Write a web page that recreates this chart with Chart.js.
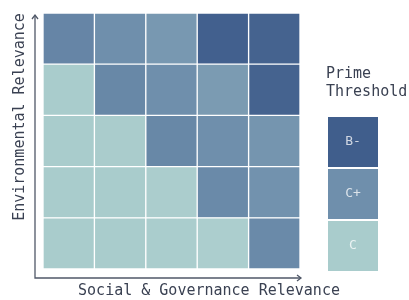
<!DOCTYPE html>
<html>
<head>
<meta charset="utf-8">
<script src="https://cdn.jsdelivr.net/npm/chart.js@4/dist/chart.umd.min.js"></script>
<style>
  html, body { margin: 0; padding: 0; background: #fff; }
  #wrap { width: 409px; height: 300px; }
</style>
</head>
<body>
<div id="wrap"><canvas id="heat" width="409" height="300"></canvas></div>
<script>
// social & governance relevance columns (left -> right)
const columns = ['1', '2', '3', '4', '5'];
// environmental relevance rows, listed bottom -> top
const rowLow1 = [1.0, 1.0, 0.95, 0.85, 2.1];
const rowLow2 = [1.0, 1.0, 0.93, 2.1, 1.95];
const rowMid = [1.0, 0.97, 2.15, 2.0, 1.9];
const rowHigh2 = [1.0, 2.15, 2.0, 1.8, 2.9];
const rowHigh1 = [2.2, 2.0, 1.85, 2.95, 2.9];
const rows = [rowLow1, rowLow2, rowMid, rowHigh2, rowHigh1];

// legend: grade labels (top -> bottom) and the score they stand for
const grades = ['B-', 'C+', 'C'];
const gradeScores = [3, 2, 1];

const xTitle = 'Social & Governance Relevance';
const yTitle = 'Environmental Relevance';
const legendTitle = ['Prime', 'Threshold'];

// colour ramp, score -> rgb
const stops = [
  [0, [192, 218, 214]],
  [1, [169, 204, 204]],
  [2, [111, 143, 172]],
  [3, [64, 94, 140]]
];
function scoreColor(s) {
  for (let i = 1; i < stops.length; i++) {
    if (s <= stops[i][0] || i === stops.length - 1) {
      const a = stops[i - 1], b = stops[i];
      const t = Math.max(0, Math.min(1, (s - a[0]) / (b[0] - a[0])));
      const c = a[1].map((v, k) => Math.round(v + (b[1][k] - v) * t));
      return `rgb(${c[0]},${c[1]},${c[2]})`;
    }
  }
}

const FONT = "'DejaVu Sans Mono', monospace";
const INK = '#3a4152';

const decor = {
  id: 'decor',
  afterDraw(chart) {
    const ctx = chart.ctx;
    const area = chart.chartArea;
    ctx.save();
    // axis lines with arrows
    const ox = area.left - 8, oy = area.bottom + 9;
    ctx.strokeStyle = '#505868';
    ctx.lineWidth = 1.3;
    ctx.beginPath();
    ctx.moveTo(ox, area.top + 2);
    ctx.lineTo(ox, oy);
    ctx.lineTo(area.right + 1, oy);
    ctx.stroke();
    ctx.beginPath();
    ctx.moveTo(ox - 3, area.top + 6);
    ctx.lineTo(ox, area.top + 2);
    ctx.lineTo(ox + 3, area.top + 6);
    ctx.moveTo(area.right - 3, oy - 3);
    ctx.lineTo(area.right + 1, oy);
    ctx.lineTo(area.right - 3, oy + 3);
    ctx.stroke();

    // titles
    ctx.fillStyle = INK;
    ctx.font = `15px ${FONT}`;
    ctx.textAlign = 'center';
    ctx.textBaseline = 'middle';
    ctx.fillText(xTitle, 209, 291);
    ctx.save();
    ctx.translate(20, 117);
    ctx.rotate(-Math.PI / 2);
    ctx.fillText(yTitle, 0, 0);
    ctx.restore();

    // legend
    ctx.textAlign = 'left';
    ctx.font = `15px ${FONT}`;
    legendTitle.forEach((t, i) => ctx.fillText(t, 326, 74 + i * 18));
    const lx = 328, lw = 50, lh = 50, ly = 117;
    grades.forEach((g, i) => {
      const y = ly + i * (lh + 2);
      ctx.fillStyle = scoreColor(gradeScores[i]);
      ctx.fillRect(lx, y, lw, lh);
      ctx.fillStyle = 'rgba(255,255,255,0.75)';
      ctx.font = `13px ${FONT}`;
      ctx.textAlign = 'center';
      ctx.fillText(g, lx + lw / 2, y + lh / 2);
    });
    ctx.restore();
  }
};

new Chart(document.getElementById('heat'), {
  type: 'bar',
  data: {
    labels: columns,
    datasets: rows.map((row, r) => ({
      label: 'row ' + (r + 1),
      data: row.map(() => 1),
      backgroundColor: row.map(scoreColor),
      borderColor: '#ffffff',
      borderWidth: 1,
      borderSkipped: false,
      categoryPercentage: 1,
      barPercentage: 1
    }))
  },
  options: {
    responsive: false,
    animation: false,
    layout: { padding: { left: 43, right: 109, top: 13, bottom: 31 } },
    plugins: { legend: { display: false }, tooltip: { enabled: false } },
    scales: {
      x: { stacked: true, display: false },
      y: { stacked: true, display: false, min: 0, max: 5 }
    }
  },
  plugins: [decor]
});
</script>
</body>
</html>
